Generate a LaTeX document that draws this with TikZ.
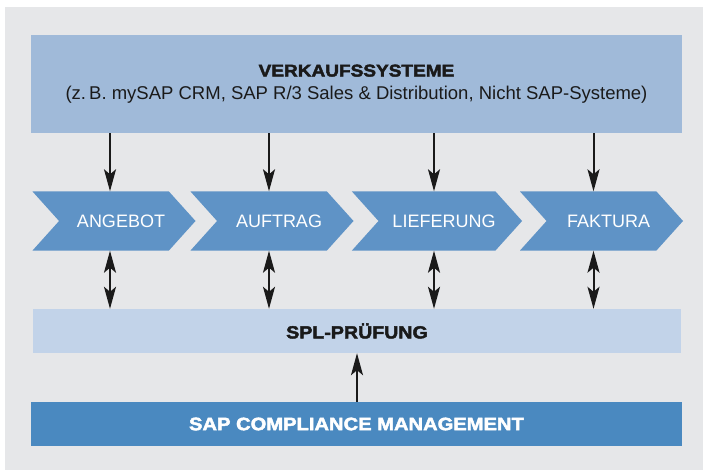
\documentclass[tikz,border=0pt]{standalone}
\usepackage{fontspec}
\usepackage{tikz}
\usetikzlibrary{arrows.meta,shapes.symbols}
\setmainfont{Liberation Sans}
\newfontfamily\headfont{Liberation Sans Bold}[FakeStretch=1.12,FakeBold=2.5]
\definecolor{bggray}{HTML}{E6E7E9}
\definecolor{sysblue}{HTML}{A0BAD9}
\definecolor{chevblue}{HTML}{5F93C6}
\definecolor{splblue}{HTML}{C2D3E9}
\definecolor{cmblue}{HTML}{4A89C0}
\definecolor{ink}{HTML}{1A1A1A}

\begin{document}
\begin{tikzpicture}[x=1pt, y=-1pt, >={Stealth[length=22pt,width=12pt,inset=5pt]},
  bar/.style={rectangle, inner sep=0pt, text=ink},
  chev/.style={signal, signal from=west, signal to=east, signal pointer angle=96,
    fill=chevblue, text=white, minimum width=163pt, minimum height=59pt, inner sep=0pt,
    font=\fontsize{18}{20}\selectfont},
  head/.style={font=\headfont\fontsize{17.5}{20}\selectfont},
  link/.style={line width=2pt, ->, ink},
  both/.style={line width=2pt, <->, ink}]
  \useasboundingbox (0,0) rectangle (703,470);
  \fill[bggray] (5,7) rectangle (703,470);

  % Systems
  \node[bar, fill=sysblue, minimum width=651pt, minimum height=98pt, align=center,
    font=\fontsize{18.5}{23}\selectfont] (sys) at (356.5,84)
    {{\headfont\fontsize{17}{20}\selectfont VERKAUFSSYSTEME}\\
     (z.\,B. mySAP CRM, SAP R/3 Sales \& Distribution, Nicht SAP-Systeme)};

  % Process steps
  \node[chev] (ang) at (114,221) {\hspace*{14pt}ANGEBOT};
  \node[chev] (auf) at (272,221) {\hspace*{14pt}AUFTRAG};
  \node[chev] (lie) at (437,221) {\hspace*{14pt}LIEFERUNG};
  \node[chev] (fak) at (601.5,221) {\hspace*{14pt}FAKTURA};

  % Checks
  \node[bar, head, fill=splblue, minimum width=648pt, minimum height=44pt] (spl) at (357,331) {SPL-PRÜFUNG};
  \node[bar, head, fill=cmblue, text=white, minimum width=651pt, minimum height=44pt,
    font=\headfont\fontsize{18}{20}\selectfont] (cm) at (356.5,424) {SAP COMPLIANCE MANAGEMENT};

  % Arrows
  \foreach \c/\dx in {ang/-4, auf/-3, lie/-3, fak/-8} {
    \draw[link] ([xshift=\dx]\c.north |- sys.south) -- ([xshift=\dx]\c.north);
    \draw[both] ([xshift=\dx]\c.south) -- ([xshift=\dx]\c.south |- spl.north);
  }
  \draw[link] (cm.north -| spl.south) -- (spl.south);
\end{tikzpicture}
\end{document}
